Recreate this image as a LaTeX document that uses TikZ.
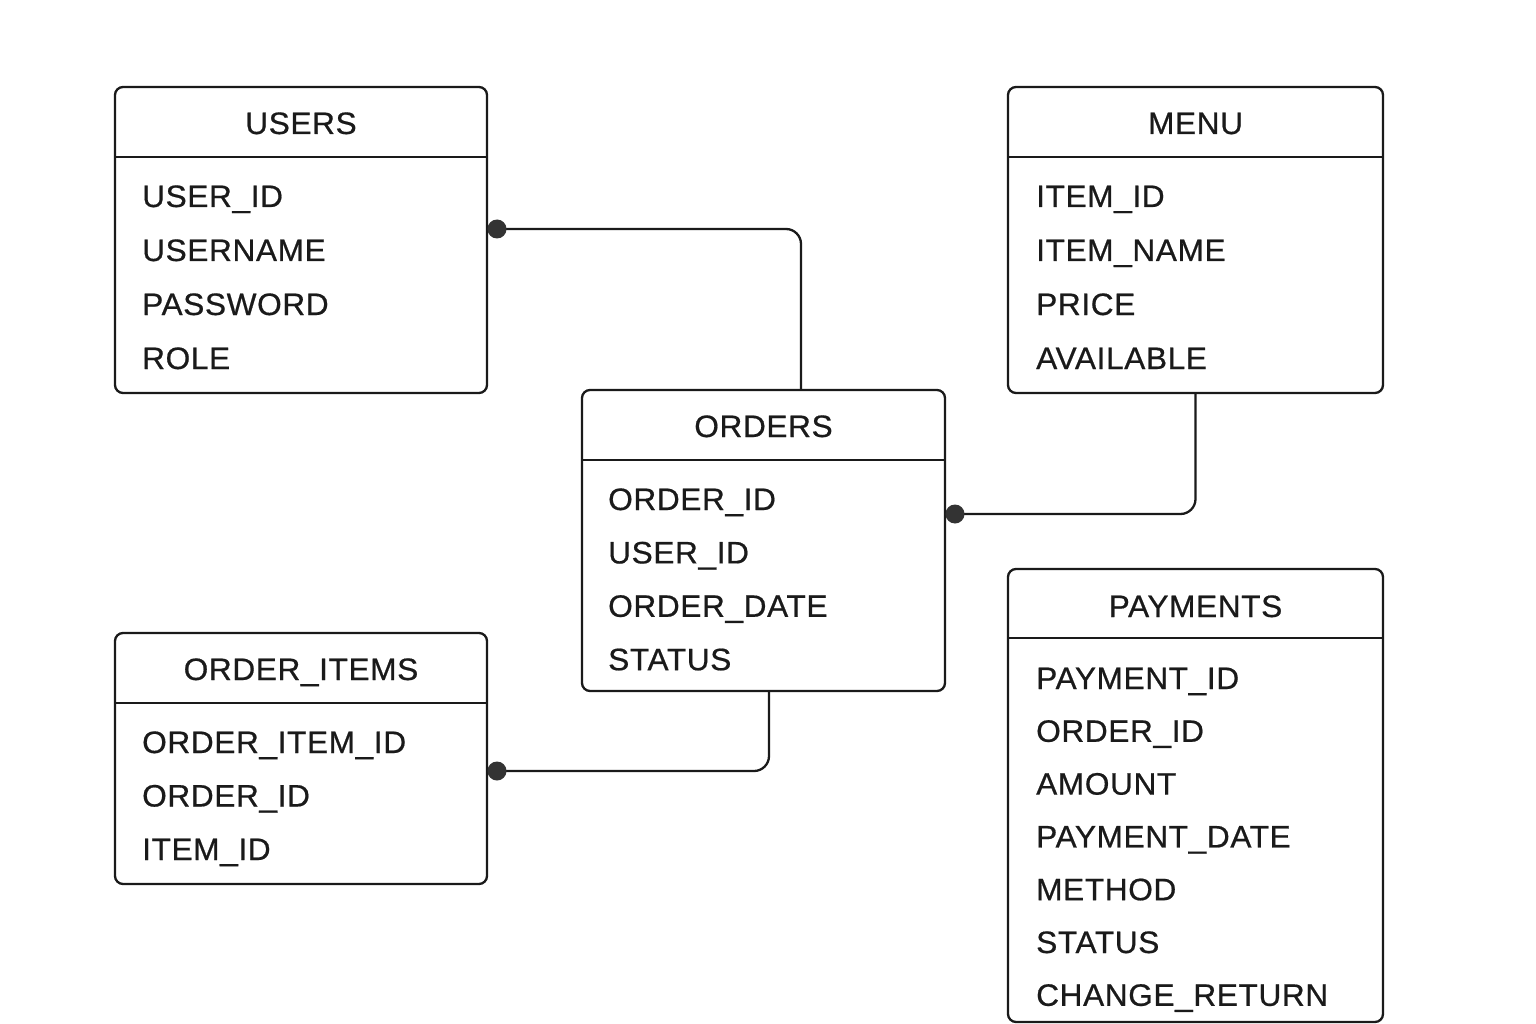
\documentclass[tikz,border=0pt]{standalone}
\usepackage{fontspec}
\setmainfont{Liberation Sans}[LetterSpace=2,FakeBold=0.6,FakeStretch=1.02]
\definecolor{ink}{HTML}{1A1A1A}
\definecolor{dotc}{HTML}{333333}
\begin{document}
\begin{tikzpicture}[x=1pt,y=-1pt,
  tbl/.style={draw=ink, line width=2.3pt, rounded corners=8pt, inner sep=0pt, outer sep=0pt, rectangle},
  hdr/.style={draw=ink, line width=2.3pt},
  ttl/.style={anchor=base, font=\fontsize{31}{31}\selectfont, text=ink, inner sep=0pt},
  fld/.style={anchor=base west, font=\fontsize{31}{31}\selectfont, text=ink, inner sep=0pt},
  conn/.style={draw=ink, line width=2.3pt, rounded corners=15pt},
  dotf/.style={fill=dotc}]
\useasboundingbox (0,0) rectangle (1536,1024);
\fill[white] (0,0) rectangle (1536,1024);

% USERS
\node[tbl, minimum width=372pt, minimum height=306pt] (users) at (301,240) {};
\draw[hdr] ([yshift=-70pt]users.north west) -- ([yshift=-70pt]users.north east);
\node[ttl] (usersT) at ([yshift=-47pt]users.north) {USERS};
\foreach \t [count=\i] in {USER\_ID,USERNAME,PASSWORD,ROLE}
  \node[fld] (users-f\i) at ([xshift=27pt,yshift={-120-(\i-1)*54}]users.north west) {\t};

% MENU
\node[tbl, minimum width=375pt, minimum height=306pt] (menu) at (1195.5,240) {};
\draw[hdr] ([yshift=-70pt]menu.north west) -- ([yshift=-70pt]menu.north east);
\node[ttl] (menuT) at ([yshift=-47pt]menu.north) {MENU};
\foreach \t [count=\i] in {ITEM\_ID,ITEM\_NAME,PRICE,AVAILABLE}
  \node[fld] (menu-f\i) at ([xshift=28pt,yshift={-120-(\i-1)*54}]menu.north west) {\t};

% ORDERS
\node[tbl, minimum width=363pt, minimum height=301pt] (orders) at (763.5,540.5) {};
\draw[hdr] ([yshift=-70pt]orders.north west) -- ([yshift=-70pt]orders.north east);
\node[ttl] (ordersT) at ([yshift=-47pt]orders.north) {ORDERS};
\foreach \t [count=\i] in {ORDER\_ID,USER\_ID,ORDER\_DATE,STATUS}
  \node[fld] (orders-f\i) at ([xshift=26pt,yshift={-120-(\i-1)*53.4}]orders.north west) {\t};

% ORDER_ITEMS
\node[tbl, minimum width=372pt, minimum height=251pt] (oitems) at (301,758.5) {};
\draw[hdr] ([yshift=-70pt]oitems.north west) -- ([yshift=-70pt]oitems.north east);
\node[ttl] (oitemsT) at ([yshift=-47pt]oitems.north) {ORDER\_ITEMS};
\foreach \t [count=\i] in {ORDER\_ITEM\_ID,ORDER\_ID,ITEM\_ID}
  \node[fld] (oitems-f\i) at ([xshift=27pt,yshift={-120-(\i-1)*53.5}]oitems.north west) {\t};

% PAYMENTS
\node[tbl, minimum width=375pt, minimum height=453pt] (pay) at (1195.5,795.5) {};
\draw[hdr] ([yshift=-69pt]pay.north west) -- ([yshift=-69pt]pay.north east);
\node[ttl] (payT) at ([yshift=-48pt]pay.north) {PAYMENTS};
\foreach \t [count=\i] in {PAYMENT\_ID,ORDER\_ID,AMOUNT,PAYMENT\_DATE,METHOD,STATUS,CHANGE\_RETURN}
  \node[fld] (pay-f\i) at ([xshift=28pt,yshift={-120-(\i-1)*52.8}]pay.north west) {\t};

% connectors
\coordinate (j1) at (801,0);
\coordinate (d1) at ([xshift=10pt,yshift=11pt]users.east);
\draw[conn] (d1) -| (orders.north -| j1);
\fill[dotf] (d1) circle (9.5pt);

\coordinate (d2) at ([xshift=10pt,yshift=26.5pt]orders.east);
\draw[conn] (menu.south) |- (d2);
\fill[dotf] (d2) circle (9.5pt);

\coordinate (d3) at ([xshift=10pt,yshift=-12.5pt]oitems.east);
\draw[conn] ([xshift=5.5pt]orders.south) |- (d3);
\fill[dotf] (d3) circle (9.5pt);
\end{tikzpicture}
\end{document}
